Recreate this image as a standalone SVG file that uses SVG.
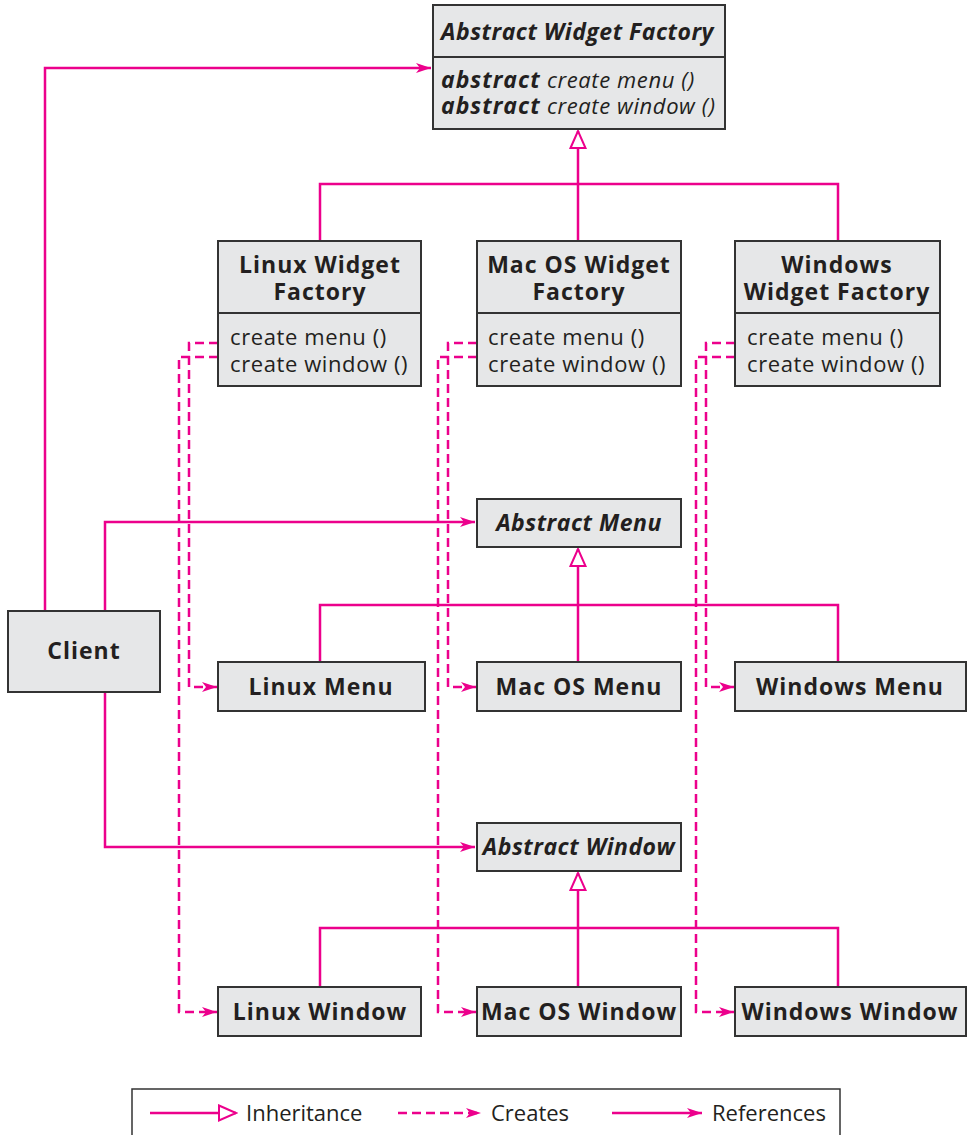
<svg xmlns="http://www.w3.org/2000/svg" width="972" height="1135" viewBox="0 0 972 1135">
<style>
.box{fill:#e6e7e8;stroke:#333;stroke-width:2}
.t{font-family:"Open Sans","Noto Sans",sans-serif;font-size:22px;fill:#231f20;letter-spacing:0.6px}
.b{font-weight:bold;font-size:23px;letter-spacing:1px}
.i{font-style:italic}
.bi{letter-spacing:0.5px}
.c{text-anchor:middle}
.lg{font-family:"Open Sans","Noto Sans",sans-serif;font-size:22px;fill:#231f20}
.ln{fill:none;stroke:#ec008c;stroke-width:2.5}
.ds{stroke-dasharray:9 5}
</style>
<defs>
<marker id="arr" markerWidth="16" markerHeight="12" refX="15" refY="6" orient="auto" markerUnits="userSpaceOnUse">
<path d="M0,1 L15,6 L0,11 L4,6 z" fill="#ec008c"/>
</marker>
<marker id="tri" markerWidth="20" markerHeight="20" refX="18" refY="9" orient="auto" markerUnits="userSpaceOnUse">
<path d="M1,1.5 L18,9 L1,16.5 z" fill="#fff" stroke="#ec008c" stroke-width="2"/>
</marker>
</defs>
<g id="connectors">
<path class="ln" d="M45,611 V68 H431" marker-end="url(#arr)"/>
<path class="ln" d="M105,611 V522 H475" marker-end="url(#arr)"/>
<path class="ln" d="M105,692 V847 H475" marker-end="url(#arr)"/>
<path class="ln" d="M320,241 V184 H838 V241"/>
<path class="ln" d="M578,241 V131" marker-end="url(#tri)"/>
<path class="ln" d="M320,662 V605 H838 V662"/>
<path class="ln" d="M578,662 V549" marker-end="url(#tri)"/>
<path class="ln" d="M320,987 V928 H838 V987"/>
<path class="ln" d="M578,987 V873" marker-end="url(#tri)"/>
<path class="ln ds" d="M218,343 H189 V687 H217" marker-end="url(#arr)"/>
<path class="ln ds" d="M218,357 H179 V1012 H217" marker-end="url(#arr)"/>
<path class="ln ds" d="M477,343 H448 V687 H476" marker-end="url(#arr)"/>
<path class="ln ds" d="M477,357 H438 V1012 H476" marker-end="url(#arr)"/>
<path class="ln ds" d="M735,343 H706 V687 H734" marker-end="url(#arr)"/>
<path class="ln ds" d="M735,357 H696 V1012 H734" marker-end="url(#arr)"/>
</g>
<g id="abstract-widget-factory">
<rect class="box" x="433" y="5" width="292" height="124"/>
<line x1="433" y1="57" x2="725" y2="57" stroke="#333" stroke-width="2"/>
<text class="t b i bi" x="441" y="40">Abstract Widget Factory</text>
<text class="t i" x="441" y="88"><tspan class="b">abstract</tspan> create menu ()</text>
<text class="t i" x="441" y="114"><tspan class="b">abstract</tspan> create window ()</text>
</g>
<g id="linux-widget-factory">
<rect class="box" x="218" y="241" width="203" height="145"/>
<line x1="218" y1="313" x2="421" y2="313" stroke="#333" stroke-width="2"/>
<text class="t b c" x="320" y="273">Linux Widget</text>
<text class="t b c" x="320" y="300">Factory</text>
<text class="t" x="230" y="345">create menu ()</text>
<text class="t" x="230" y="372">create window ()</text>
</g>
<g id="macos-widget-factory">
<rect class="box" x="477" y="241" width="204" height="145"/>
<line x1="477" y1="313" x2="681" y2="313" stroke="#333" stroke-width="2"/>
<text class="t b c" x="579" y="273">Mac OS Widget</text>
<text class="t b c" x="579" y="300">Factory</text>
<text class="t" x="488" y="345">create menu ()</text>
<text class="t" x="488" y="372">create window ()</text>
</g>
<g id="windows-widget-factory">
<rect class="box" x="735" y="241" width="205" height="145"/>
<line x1="735" y1="313" x2="940" y2="313" stroke="#333" stroke-width="2"/>
<text class="t b c" x="837" y="273">Windows</text>
<text class="t b c" x="837" y="300">Widget Factory</text>
<text class="t" x="747" y="345">create menu ()</text>
<text class="t" x="747" y="372">create window ()</text>
</g>
<g id="abstract-menu">
<rect class="box" x="477" y="499" width="204" height="48"/>
<text class="t b i bi c" x="579" y="531">Abstract Menu</text>
</g>
<g id="client">
<rect class="box" x="8" y="611" width="152" height="81"/>
<text class="t b c" x="84" y="659">Client</text>
</g>
<g id="linux-menu">
<rect class="box" x="218" y="662" width="207" height="49"/>
<text class="t b c" x="321" y="695">Linux Menu</text>
</g>
<g id="macos-menu">
<rect class="box" x="477" y="662" width="204" height="49"/>
<text class="t b c" x="579" y="695">Mac OS Menu</text>
</g>
<g id="windows-menu">
<rect class="box" x="735" y="662" width="231" height="49"/>
<text class="t b c" x="850" y="695">Windows Menu</text>
</g>
<g id="abstract-window">
<rect class="box" x="477" y="823" width="204" height="48"/>
<text class="t b i bi c" x="579" y="855">Abstract Window</text>
</g>
<g id="linux-window">
<rect class="box" x="218" y="987" width="203" height="49"/>
<text class="t b c" x="320" y="1020">Linux Window</text>
</g>
<g id="macos-window">
<rect class="box" x="477" y="987" width="204" height="49"/>
<text class="t b c" x="579" y="1020">Mac OS Window</text>
</g>
<g id="windows-window">
<rect class="box" x="735" y="987" width="231" height="49"/>
<text class="t b c" x="850" y="1020">Windows Window</text>
</g>
<g id="legend">
<rect x="132" y="1089" width="708" height="60" fill="#fff" stroke="#333" stroke-width="1.5"/>
<path class="ln" d="M150,1113 H236" marker-end="url(#tri)"/>
<text class="lg" x="246" y="1121">Inheritance</text>
<path class="ln ds" d="M398,1113 H481" marker-end="url(#arr)"/>
<text class="lg" x="491" y="1121">Creates</text>
<path class="ln" d="M612,1113 H702" marker-end="url(#arr)"/>
<text class="lg" x="712" y="1121">References</text>
</g>
</svg>
